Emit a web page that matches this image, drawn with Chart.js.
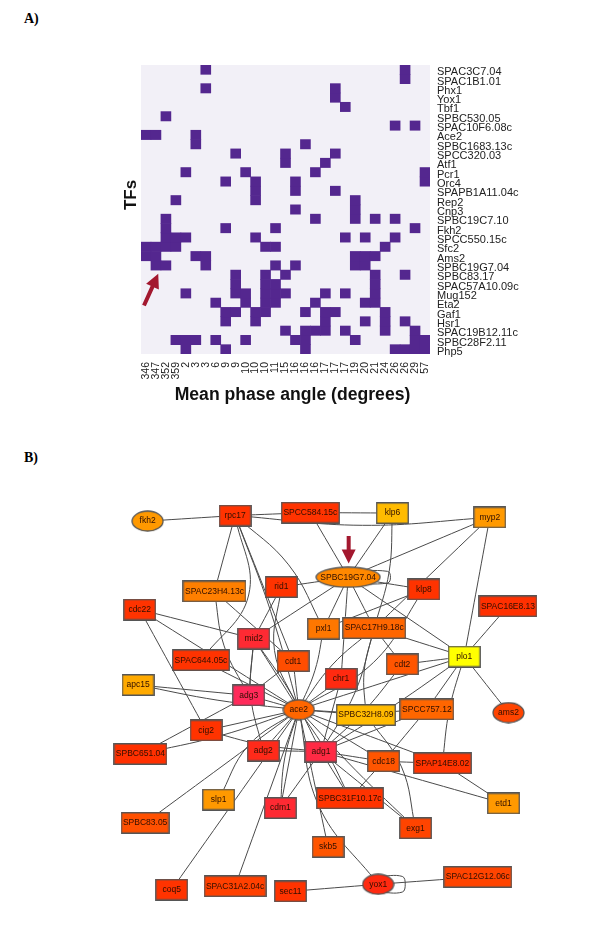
<!DOCTYPE html>
<html>
<head>
<meta charset="utf-8">
<script src="https://cdn.jsdelivr.net/npm/chart.js@4"></script>
<style>
  body { margin: 0; background: #fff; width: 600px; height: 925px; position: relative; overflow: hidden; }
  canvas { position: absolute; left: 0; filter: blur(0.35px); }
  #heatmap { top: 0; }
  #network { top: 440px; }
  .panel { position: absolute; left: 24px; font: bold 14px "Liberation Serif", serif; color: #000; }
</style>
</head>
<body>
<div class="panel" style="top:11px">A)</div>
<div class="panel" style="top:450px">B)</div>
<canvas id="heatmap" width="600" height="412"></canvas>
<canvas id="network" width="600" height="485"></canvas>
<script>
// panel A
const tfNames = ["SPAC3C7.04", "SPAC1B1.01", "Phx1", "Yox1", "Tbf1", "SPBC530.05", "SPAC10F6.08c", "Ace2",
  "SPBC1683.13c", "SPCC320.03", "Atf1", "Pcr1", "Orc4", "SPAPB1A11.04c", "Rep2", "Cnp3", "SPBC19C7.10", "Fkh2",
  "SPCC550.15c", "Sfc2", "Ams2", "SPBC19G7.04", "SPBC83.17", "SPAC57A10.09c", "Mug152", "Eta2", "Gaf1", "Hsr1",
  "SPAC19B12.11c", "SPBC28F2.11", "Php5"];
const phaseAngles = ["346", "347", "352", "359", "2", "3", "3", "6", "9", "9", "10", "10", "10", "11", "15",
  "16", "16", "16", "17", "17", "17", "19", "20", "21", "24", "26", "26", "29", "57"];
// column indexes of the enriched cells, one list per TF
const enriched = [
  [6, 26], [26], [6, 19], [19], [20], [2], [25, 27], [0, 1, 5], [5, 16], [9, 14, 19], [14, 18],
  [4, 10, 17, 28], [8, 11, 15, 28], [11, 15, 19], [3, 11, 21], [15, 21], [2, 17, 21, 23, 25],
  [2, 8, 13, 27], [2, 3, 4, 11, 20, 22, 25], [0, 1, 2, 3, 12, 13, 24], [0, 1, 5, 6, 21, 22, 23],
  [1, 2, 6, 13, 15, 21, 22], [9, 12, 14, 23, 26], [9, 12, 13, 23], [4, 9, 10, 12, 13, 14, 18, 20, 23],
  [7, 10, 12, 13, 17, 22, 23], [8, 9, 11, 12, 16, 18, 19, 24], [8, 11, 18, 22, 24, 26],
  [14, 16, 17, 18, 20, 24, 27], [3, 4, 5, 7, 10, 15, 16, 21, 27, 28], [4, 8, 16, 25, 26, 27, 28]
];

// panel B
const nodeNames = ["fkh2", "rpc17", "SPCC584.15c", "klp6", "myp2", "SPBC19G7.04", "klp8", "SPAC16E8.13", "pxl1",
  "SPAC17H9.18c", "cdt2", "plo1", "chr1", "SPAC23H4.13c", "rid1", "cdc22", "mid2", "SPAC644.05c", "cdt1", "apc15",
  "adg3", "ace2", "SPBC32H8.09", "SPCC757.12", "ams2", "cig2", "adg2", "adg1", "cdc18", "SPAP14E8.02", "SPBC651.04",
  "etd1", "slp1", "cdm1", "SPBC31F10.17c", "exg1", "SPBC83.05", "skb5", "yox1", "SPAC12G12.06c", "coq5",
  "SPAC31A2.04c", "sec11"];
const nodeX = [145, 234, 310.5, 394, 493, 349, 426, 511.5, 324, 375.5, 404, 467, 341.7, 213, 281, 137, 253, 199.3, 293,
  135.3, 247.8, 298.8, 367, 429, 512, 204.5, 262.7, 321.3, 385, 444.8, 137.7, 507, 217.2, 280, 350.8, 417.5, 142.5,
  328.5, 379.5, 480.8, 169.5, 234, 290.3];
const nodeY = [517.7, 512, 509, 509.5, 514, 575, 587.5, 604.7, 627.5, 627, 664, 656, 678.7, 589.5, 585, 608, 637.7,
  659.7, 660.8, 685, 695.7, 710.3, 715.7, 710, 713.3, 731.5, 752, 753, 763, 765, 755.5, 806, 802, 810.7, 800.8, 831.3,
  825.8, 850.3, 888.5, 881, 894, 890.5, 895.8];
const tfNodes = ["fkh2", "SPBC19G7.04", "ace2", "ams2", "yox1"];
// from, to, bend
const edges = [
  ["fkh2", "rpc17", 0], ["rpc17", "SPCC584.15c", 0], ["rpc17", "myp2", -9], ["SPCC584.15c", "klp6", 0],
  ["rpc17", "SPAC23H4.13c", 0], ["rpc17", "SPAC644.05c", 32], ["rpc17", "ace2", 4], ["rpc17", "cdt1", 0],
  ["rpc17", "pxl1", 12], ["SPCC584.15c", "SPBC19G7.04", 0], ["klp6", "SPBC19G7.04", 0], ["klp6", "SPAC17H9.18c", 6],
  ["myp2", "SPBC19G7.04", 0], ["myp2", "SPAC17H9.18c", 0], ["myp2", "plo1", 0], ["klp8", "SPBC19G7.04", 0],
  ["klp8", "pxl1", 0], ["klp8", "ace2", 18], ["SPBC19G7.04", "rid1", 0], ["SPBC19G7.04", "pxl1", 0],
  ["SPBC19G7.04", "chr1", 0], ["SPBC19G7.04", "SPAC17H9.18c", 0], ["SPBC19G7.04", "plo1", 0],
  ["SPBC19G7.04", "mid2", 0], ["SPAC16E8.13", "plo1", 0], ["plo1", "SPAC17H9.18c", 0], ["plo1", "cdt2", 0],
  ["plo1", "ace2", 0], ["plo1", "SPCC757.12", 0], ["plo1", "ams2", 0], ["plo1", "SPAP14E8.02", -4],
  ["plo1", "adg1", 2], ["pxl1", "ace2", 4], ["SPAC17H9.18c", "ace2", -6], ["SPAC17H9.18c", "cdt2", 0],
  ["SPAC17H9.18c", "SPBC32H8.09", -6], ["SPAC17H9.18c", "adg1", 8], ["cdt2", "adg1", 4], ["rid1", "ace2", -16],
  ["rid1", "mid2", 0], ["SPAC23H4.13c", "cdt1", 0], ["SPAC23H4.13c", "adg3", -8],
  ["cdc22", "mid2", 0], ["cdc22", "ace2", 0], ["cdc22", "cig2", 0], ["mid2", "ace2", 0], ["mid2", "adg3", 0],
  ["mid2", "adg1", 4], ["mid2", "adg2", -8], ["SPAC644.05c", "ace2", 0], ["apc15", "adg3", 0], ["apc15", "ace2", -3],
  ["adg3", "ace2", 0], ["SPBC651.04", "adg3", 0], ["SPBC651.04", "ace2", -4], ["cig2", "ace2", 0], ["cig2", "adg1", -4],
  ["adg2", "ace2", 0], ["adg2", "adg1", 0], ["slp1", "ace2", 14], ["SPBC83.05", "ace2", 0], ["cdm1", "ace2", 0],
  ["cdm1", "adg1", 0], ["cdm1", "ace2", 5], ["coq5", "ace2", 0], ["SPAC31A2.04c", "ace2", 0], ["sec11", "yox1", 0],
  ["yox1", "ace2", 22], ["yox1", "SPAC12G12.06c", 0], ["skb5", "ace2", 0], ["SPBC31F10.17c", "ace2", -3],
  ["SPBC31F10.17c", "cdc18", 0], ["SPBC31F10.17c", "adg1", 0], ["exg1", "adg1", 0], ["exg1", "ace2", 2],
  ["exg1", "SPBC32H8.09", -12], ["cdc18", "ace2", 0], ["cdc18", "adg1", 0], ["cdc18", "SPAP14E8.02", 0],
  ["SPAP14E8.02", "ace2", 0], ["SPAP14E8.02", "etd1", 0], ["etd1", "adg1", 0], ["SPCC757.12", "adg1", 0],
  ["SPCC757.12", "ace2", 3], ["SPCC757.12", "cdc18", 0], ["SPBC32H8.09", "ace2", 0], ["chr1", "ace2", 0],
  ["chr1", "adg1", 0], ["cdt1", "ace2", 0], ["cdt1", "adg3", 0]
];
// node, reach, half height
const selfLoops = [["SPBC19G7.04", 43, 6], ["yox1", 27.5, 8]];

const nodeColors = ["#ff9900", "#ff3300", "#ff3300", "#ffbb00", "#ff9900", "#ff8800", "#ff3300", "#ff3000", "#ff7700",
  "#ff6600", "#ff5500", "#ffff00", "#ff2a10", "#ff7f00", "#ff3300", "#ff3300", "#ff2a33", "#ff3300", "#ff4d00", "#ffaa00",
  "#ff2a5a", "#ff6600", "#ffbb00", "#ff6600", "#ff4400", "#ff3300", "#ff2a1a", "#ff2a44", "#ff5500", "#ff3300", "#ff3000",
  "#ff9900", "#ff9900", "#ff2a33", "#ff3300", "#ff4400", "#ff5000", "#ff5500", "#ff2a10", "#ff4400", "#ff3300", "#ff4000",
  "#ff3300"];

const sansFont = '"Liberation Sans", Arial, sans-serif';
const arrowColor = "#a3182f";

// block arrow, ends given in the chart's own scale values
function drawArrow(chart, xScale, yScale, from, to) {
  const ctx = chart.ctx;
  const x0 = xScale.getPixelForValue(from[0]);
  const y0 = yScale.getPixelForValue(from[1]);
  const x1 = xScale.getPixelForValue(to[0]);
  const y1 = yScale.getPixelForValue(to[1]);
  const angle = Math.atan2(y1 - y0, x1 - x0);
  const length = Math.hypot(x1 - x0, y1 - y0);
  ctx.save();
  ctx.translate(x1, y1);
  ctx.rotate(angle);
  ctx.fillStyle = arrowColor;
  ctx.beginPath();
  ctx.moveTo(0, 0);
  ctx.lineTo(-14, -7);
  ctx.lineTo(-14, -2);
  ctx.lineTo(-length, -2);
  ctx.lineTo(-length, 2);
  ctx.lineTo(-14, 2);
  ctx.lineTo(-14, 7);
  ctx.closePath();
  ctx.fill();
  ctx.restore();
}

new Chart(document.getElementById("heatmap"), {
  type: "bar",
  data: {
    labels: phaseAngles,
    datasets: tfNames.map((name, row) => ({
      label: name,
      data: phaseAngles.map((_, col) => (enriched[row].includes(col) ? [row, row + 1] : null)),
      backgroundColor: "#54278f",
      grouped: false,
      barPercentage: 1,
      categoryPercentage: 1
    }))
  },
  options: {
    responsive: false,
    animation: false,
    layout: { padding: { left: 141, top: 65 } },
    plugins: { legend: { display: false }, tooltip: { enabled: false } },
    scales: {
      x: {
        grid: { display: false, drawTicks: false },
        border: { display: false },
        ticks: {
          autoSkip: false, minRotation: 90, maxRotation: 90, padding: 8,
          font: { family: sansFont, size: 10.5 }, color: "#222"
        },
        afterFit: (scale) => { scale.height = 58; }
      },
      y: {
        position: "right",
        reverse: true,
        min: 0,
        max: tfNames.length,
        grid: { display: false, drawTicks: false },
        border: { display: false },
        afterBuildTicks: (scale) => { scale.ticks = tfNames.map((_, i) => ({ value: i + 0.5 })); },
        ticks: {
          autoSkip: false, padding: 7, labelOffset: 2.5,
          font: { family: sansFont, size: 11 }, color: "#222",
          callback: (value, index) => tfNames[index]
        },
        afterFit: (scale) => { scale.width = 170; }
      }
    }
  },
  plugins: [{
    id: "cellBackground",
    beforeDatasetsDraw(chart) {
      const { ctx, chartArea } = chart;
      ctx.save();
      ctx.fillStyle = "#f2f0f7";
      ctx.fillRect(chartArea.left, chartArea.top, chartArea.width, chartArea.height);
      ctx.restore();
    },
    afterDatasetsDraw(chart) {
      drawArrow(chart, chart.scales.x, chart.scales.y, [-0.2, 25.8], [1.23, 22.4]);
    }
  }, {
    // the axis titles sit off centre in the original, so they are placed here
    id: "axisTitles",
    afterDraw(chart) {
      const { ctx } = chart;
      ctx.save();
      ctx.fillStyle = "#111";
      ctx.textAlign = "center";
      ctx.textBaseline = "middle";
      ctx.font = "bold 17.6px " + sansFont;
      ctx.fillText("Mean phase angle (degrees)", 292.5, 395);
      ctx.translate(131, 195);
      ctx.rotate(-Math.PI / 2);
      ctx.font = "bold 17px " + sansFont;
      ctx.fillText("TFs", 0, 0);
      ctx.restore();
    }
  }]
});

// node sprites, drawn once and handed to the library as point styles
const labelFont = "8.5px " + sansFont;
const measure = document.createElement("canvas").getContext("2d");
measure.font = labelFont;

function nodeSprite(name, i) {
  const isTf = tfNodes.includes(name);
  const w = Math.round(Math.max(33, measure.measureText(name).width + (isTf ? 10 : 5)));
  const h = 22;
  const sprite = document.createElement("canvas");
  sprite.width = w;
  sprite.height = h;
  const ctx = sprite.getContext("2d");
  ctx.fillStyle = nodeColors[i];
  ctx.strokeStyle = "#555";
  ctx.lineWidth = 1.3;
  ctx.beginPath();
  if (isTf) {
    ctx.ellipse(w / 2, h / 2, w / 2 - 1, h / 2 - 1, 0, 0, Math.PI * 2);
  } else {
    ctx.rect(0.75, 0.75, w - 1.5, h - 1.5);
  }
  ctx.fill();
  ctx.stroke();
  return sprite;
}

function nodePoint(name) {
  const i = nodeNames.indexOf(name);
  return { x: nodeX[i], y: nodeY[i] };
}

function edgePoints(edge) {
  const a = nodePoint(edge[0]);
  const b = nodePoint(edge[1]);
  if (!edge[2]) return [a, b];
  const dx = b.x - a.x;
  const dy = b.y - a.y;
  const len = Math.hypot(dx, dy);
  return [a, { x: (a.x + b.x) / 2 + (dy / len) * edge[2], y: (a.y + b.y) / 2 - (dx / len) * edge[2] }, b];
}

function loopPoints(loop) {
  const p = nodePoint(loop[0]);
  return [
    { x: p.x, y: p.y - loop[2] },
    { x: p.x + loop[1] - 3, y: p.y - loop[2] },
    { x: p.x + loop[1], y: p.y },
    { x: p.x + loop[1] - 3, y: p.y + loop[2] },
    { x: p.x, y: p.y + loop[2] }
  ];
}

const edgeLine = (points) => ({
  type: "line",
  data: points,
  borderColor: "#4a4a4a",
  borderWidth: 1,
  tension: 0.4,
  pointRadius: 0,
  order: 2
});

new Chart(document.getElementById("network"), {
  type: "scatter",
  data: {
    datasets: [
      ...edges.map((edge) => edgeLine(edgePoints(edge))),
      ...selfLoops.map((loop) => edgeLine(loopPoints(loop))),
      {
        label: "genes",
        data: nodeNames.map(nodePoint),
        pointStyle: nodeNames.map(nodeSprite),
        order: 1
      }
    ]
  },
  options: {
    responsive: false,
    animation: false,
    layout: { padding: 0 },
    plugins: { legend: { display: false }, tooltip: { enabled: false } },
    scales: {
      x: { type: "linear", display: false, min: 0, max: 600 },
      y: { type: "linear", display: false, min: 440, max: 925, reverse: true }
    }
  },
  plugins: [{
    id: "nodeLabels",
    afterDatasetsDraw(chart) {
      const { ctx, scales } = chart;
      ctx.save();
      ctx.font = labelFont;
      ctx.fillStyle = "#300f00";
      ctx.textAlign = "center";
      ctx.textBaseline = "middle";
      nodeNames.forEach((name, i) => {
        ctx.fillText(name, scales.x.getPixelForValue(nodeX[i]), scales.y.getPixelForValue(nodeY[i]));
      });
      ctx.restore();
      drawArrow(chart, scales.x, scales.y, [349.5, 533], [349.5, 561]);
    }
  }]
});
</script>
</body>
</html>
